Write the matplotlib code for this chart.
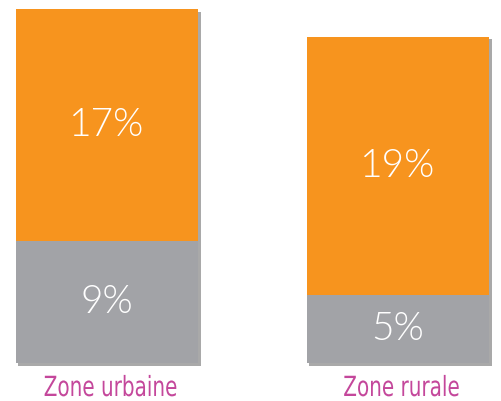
import matplotlib
matplotlib.use("Agg")
import matplotlib.pyplot as plt
import matplotlib.patheffects as pe
from matplotlib.transforms import Affine2D

zones = ["Zone urbaine", "Zone rurale"]
gray_vals = [9, 5]
orange_vals = [17, 19]
gray_labels = ["9%", "5%"]
orange_labels = ["17%", "19%"]

orange = "#F7941E"
gray = "#A2A3A7"
pink = "#C4479B"

s = 13.6  # px per percent
base_px = 38


class Narrow(pe.AbstractPathEffect):
    # squeeze text horizontally around a fixed display x, to fake a condensed face
    def __init__(self, cx, sx):
        super().__init__()
        self.cx, self.sx = cx, sx

    def draw_path(self, renderer, gc, tpath, affine, rgbFace=None):
        squeeze = Affine2D().translate(-self.cx, 0).scale(self.sx, 1).translate(self.cx, 0)
        renderer.draw_path(gc, tpath, affine + squeeze, rgbFace)


fig = plt.figure(figsize=(5.01, 4.01), dpi=100)
ax = fig.add_axes([0, 0, 1, 1])
ax.set_xlim(-107 / 291, (501 - 107) / 291)
ax.set_ylim(-base_px / s, (401 - base_px) / s)
ax.axis("off")

x = [0, 1]
w = 0.628
totals = [g + o for g, o in zip(gray_vals, orange_vals)]

# soft shadow behind the full bars
ax.bar(x, totals, width=w, color=gray, zorder=1,
       path_effects=[pe.SimplePatchShadow(offset=(2, -2), shadow_rgbFace="#555555", alpha=0.5),
                     pe.Normal()])
ax.bar(x, gray_vals, width=w, color=gray, zorder=2)
ax.bar(x, orange_vals, width=w, bottom=gray_vals, color=orange, zorder=2)

pct_font = dict(color="white", fontsize=28, family=["Lato", "DejaVu Sans"], weight=300, zorder=3)
for i in range(2):
    ax.text(x[i], gray_vals[i] / 2, gray_labels[i], ha="center", va="center", **pct_font)
    ax.text(x[i], gray_vals[i] + orange_vals[i] / 2, orange_labels[i], ha="center", va="center", **pct_font)
    lx, ly = x[i] + 0.012, -25 / s
    cx = ax.transData.transform((lx, ly))[0]
    ax.text(lx, ly, zones[i], ha="center", va="center", color=pink,
            fontsize=20, family="DejaVu Sans", path_effects=[Narrow(cx, 0.72)])

fig.savefig("out.png", dpi=100)
